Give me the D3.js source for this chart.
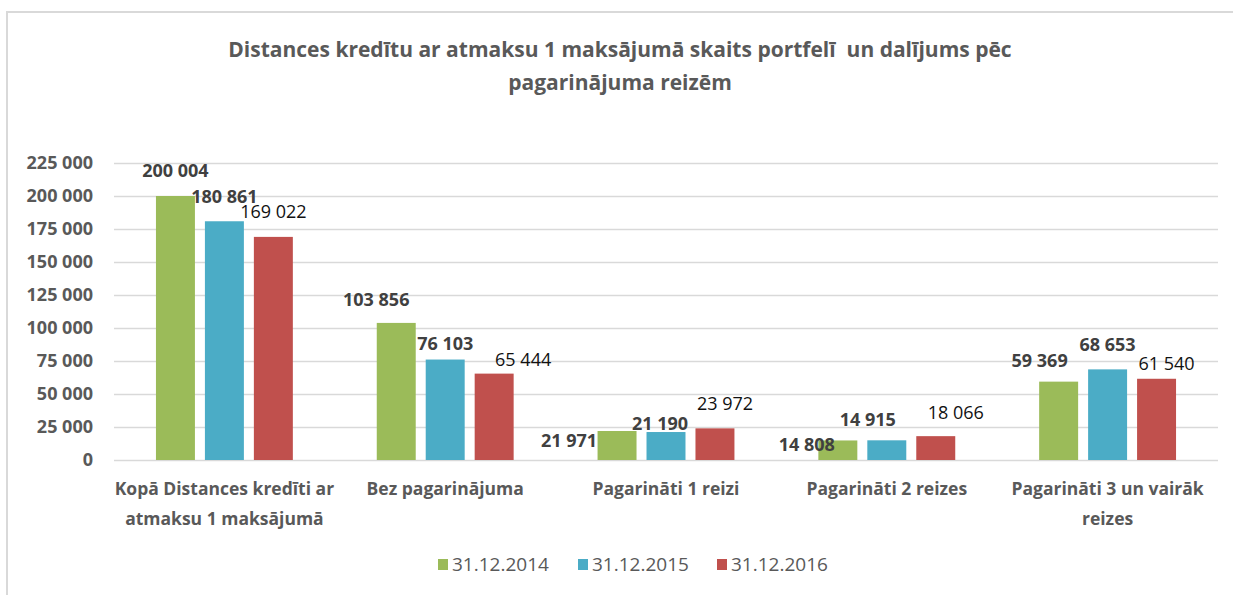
<!DOCTYPE html>
<html>
<head>
<meta charset="utf-8">
<script src="https://cdn.jsdelivr.net/npm/d3@7"></script>
<style>
  body { margin: 0; background: #fff; }
  svg { display: block; font-family: "Open Sans", sans-serif; }
</style>
</head>
<body>
<svg id="chart" width="1233" height="595"></svg>
<script>
// data
var categories = [
  "Kopā Distances kredīti ar\natmaksu 1 maksājumā",
  "Bez pagarinājuma",
  "Pagarināti 1 reizi",
  "Pagarināti 2 reizes",
  "Pagarināti 3 un vairāk\nreizes"
];
var seriesNames = ["31.12.2014", "31.12.2015", "31.12.2016"];
var values2014 = [200004, 103856, 21971, 14808, 59369];
var values2015 = [180861, 76103, 21190, 14915, 68653];
var values2016 = [169022, 65444, 23972, 18066, 61540];
var yTicks = [0, 25000, 50000, 75000, 100000, 125000, 150000, 175000, 200000, 225000];
var titleLines = [
  "Distances kredītu ar atmaksu 1 maksājumā skaits portfelī  un dalījums pēc",
  "pagarinājuma reizēm"
];

// where Excel put the value labels (dx from bar centre, dy from bar top)
var labelNudge = [
  [[0, -19], [-20, -17], [-48, 16], [-31, 11], [-19, -15]],
  [[0, -18], [0, -10], [-6, -2], [-19, -14], [0, -18]],
  [[0, -19], [29, -8], [10, -18], [20, -17], [10, -9]]
];

var colors = ["#9bbb59", "#4bacc6", "#c0504d"];
var allValues = [values2014, values2015, values2016];

var svg = d3.select("#chart");
var fmt = d3.formatLocale({decimal: ",", thousands: " ", grouping: [3], currency: ["", ""]}).format(",d");

var plotLeft = 114, plotRight = 1218, plotTop = 163, plotBottom = 460;

// frame
svg.append("path")
  .attr("d", "M7,600 V12 H1240")
  .attr("fill", "none")
  .attr("stroke", "#d9d9d9")
  .attr("stroke-width", 2);

// title
svg.append("g")
  .selectAll("text")
  .data(titleLines)
  .join("text")
    .attr("x", 620)
    .attr("y", (d, i) => 57 + i * 33)
    .attr("text-anchor", "middle")
    .attr("font-size", "21px")
    .attr("font-weight", "bold")
    .attr("fill", "#595959")
    .style("white-space", "pre")
    .text(d => d);

var y = d3.scaleLinear().domain([0, 225000]).range([plotBottom, plotTop]);
var x0 = d3.scaleBand().domain(d3.range(categories.length)).range([plotLeft, plotRight]);
var x1 = d3.scaleBand().domain(d3.range(seriesNames.length))
  .range([0, x0.bandwidth()])
  .paddingInner(0.204)
  .paddingOuter(0.857);

// gridlines + y labels
var yAxis = svg.append("g")
  .attr("transform", `translate(${plotLeft},0)`)
  .call(d3.axisLeft(y).tickValues(yTicks).tickFormat(fmt).tickSize(-(plotRight - plotLeft)).tickPadding(21));
yAxis.select(".domain").remove();
yAxis.selectAll(".tick line").attr("stroke", "#d9d9d9").attr("stroke-width", 1.5);
yAxis.selectAll(".tick text")
  .attr("fill", "#595959")
  .attr("font-size", "18px")
  .attr("font-weight", "bold")
  .attr("font-family", "Open Sans");

// bars
var groups = svg.append("g")
  .selectAll("g")
  .data(allValues)
  .join("g")
    .attr("fill", (d, i) => colors[i]);

groups.each(function(vals, s) {
  d3.select(this).selectAll("rect")
    .data(vals)
    .join("rect")
      .attr("x", (d, c) => x0(c) + x1(s))
      .attr("y", d => y(d))
      .attr("width", x1.bandwidth())
      .attr("height", d => y(0) - y(d));
});

// value labels
groups.each(function(vals, s) {
  d3.select(this).selectAll("text")
    .data(vals)
    .join("text")
      .attr("x", (d, c) => x0(c) + x1(s) + x1.bandwidth() / 2 + labelNudge[s][c][0])
      .attr("y", (d, c) => y(d) + labelNudge[s][c][1])
      .attr("text-anchor", "middle")
      .attr("font-size", "18px")
      .attr("font-weight", s < 2 ? "bold" : "normal")
      .attr("fill", s < 2 ? "#404040" : "#111")
      .text(d => fmt(d));
});

// category labels
var cat = svg.append("g")
  .selectAll("text")
  .data(categories)
  .join("text")
    .attr("x", (d, i) => x0(i) + x0.bandwidth() / 2)
    .attr("y", 495)
    .attr("text-anchor", "middle")
    .attr("font-size", "17.5px")
    .attr("font-weight", "bold")
    .attr("fill", "#595959");
cat.selectAll("tspan")
  .data(d => d.split("\n"))
  .join("tspan")
    .attr("x", function() { return this.parentNode.getAttribute("x"); })
    .attr("dy", (d, i) => i ? 30 : 0)
    .text(d => d);

// legend
var legendX = [438, 578, 717];
var legend = svg.append("g")
  .selectAll("g")
  .data(seriesNames)
  .join("g")
    .attr("transform", (d, i) => `translate(${legendX[i]},559)`);
legend.append("rect")
  .attr("width", 10)
  .attr("height", 11)
  .attr("fill", (d, i) => colors[i]);
legend.append("text")
  .attr("x", 14)
  .attr("y", 12)
  .attr("font-size", "19px")
  .attr("fill", "#595959")
  .text(d => d);
</script>
</body>
</html>
